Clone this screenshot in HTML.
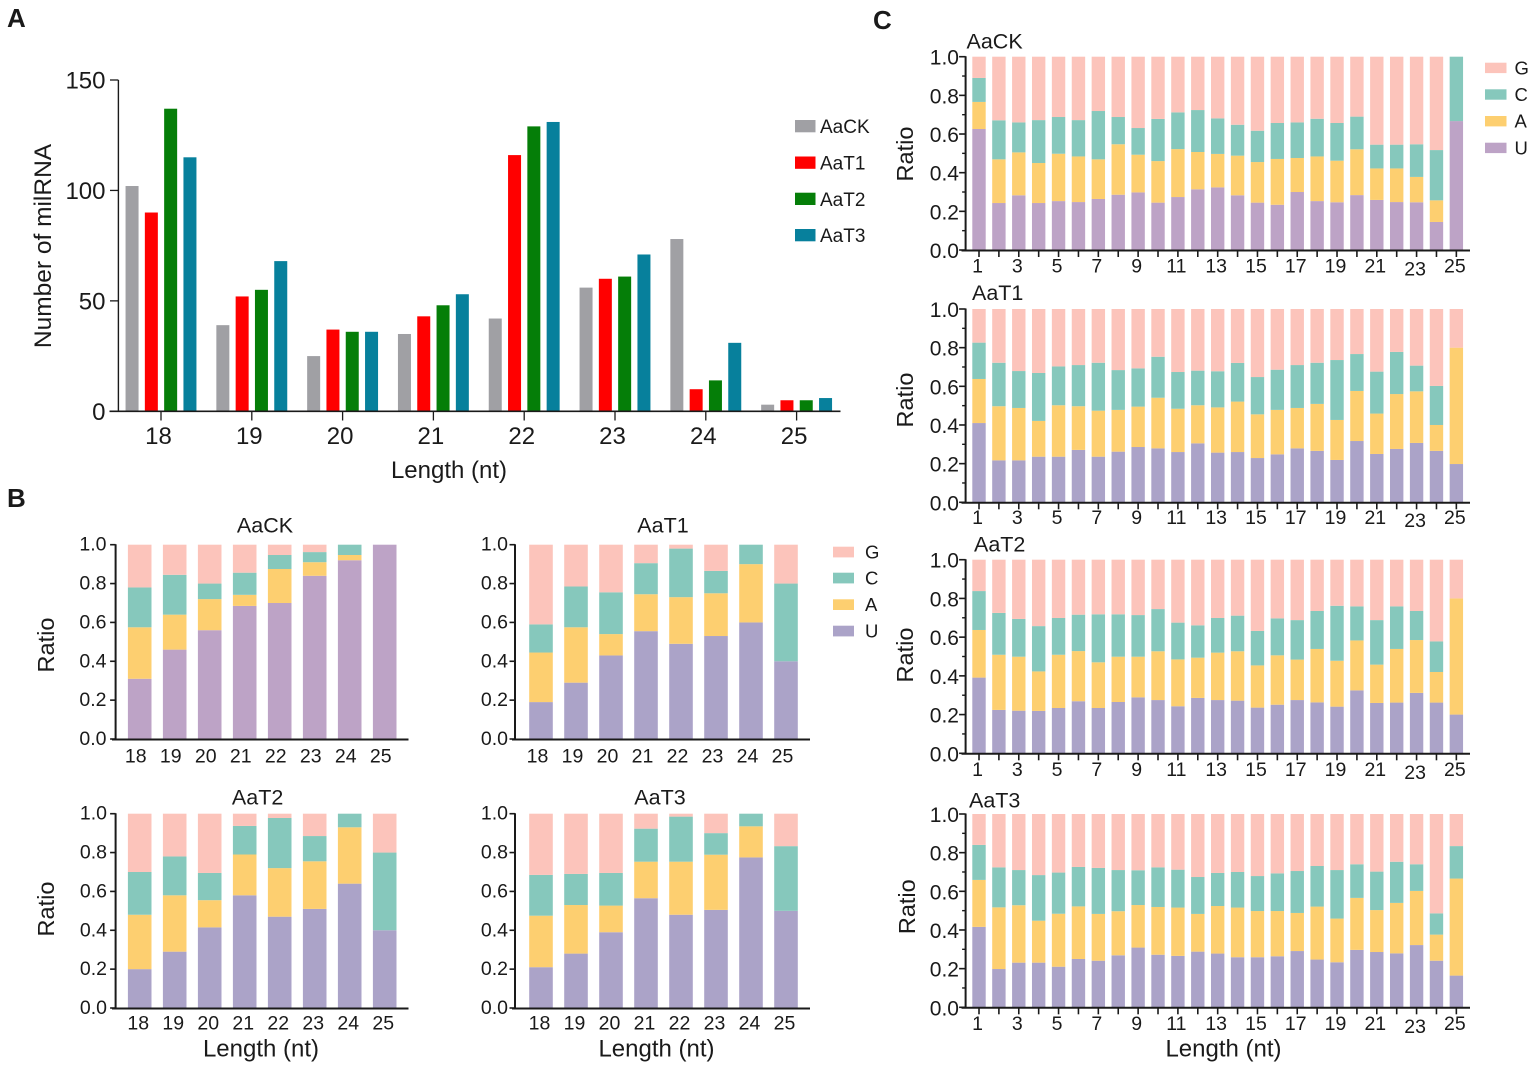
<!DOCTYPE html>
<html lang="en">
<head>
<meta charset="utf-8">
<title>miRNA length and nucleotide bias</title>
<style>
html,body{margin:0;padding:0;background:#fff;}
svg{display:block;}
text{font-family:"Liberation Sans",Arial,sans-serif;fill:#1a1a1a;}
</style>
</head>
<body>
<svg id="figure" width="1535" height="1067" viewBox="0 0 1535 1067" xmlns="http://www.w3.org/2000/svg"></svg>
<script>
// ---------- Panel A data ----------
const lengthLabels = ['18','19','20','21','22','23','24','25'];
const countTicks = [0,50,100,150];
const countAaCK = [102,39,25,35,42,56,78,3];
const countAaT1 = [90,52,37,43,116,60,10,5];
const countAaT2 = [137,55,36,48,129,61,14,5];
const countAaT3 = [115,68,36,53,131,71,31,6];

// ---------- Shared ratio ticks ----------
const ratioTicks = [0,0.2,0.4,0.6,0.8,1.0];
const ratioTickLabels = ['0.0','0.2','0.4','0.6','0.8','1.0'];
const ratioMinorTicks = [0.1,0.3,0.5,0.7,0.9];

// ---------- Panel B data: first-base ratio by length ----------
const bAaCK_U = [.31,.46,.56,.685,.70,.84,.92,1];
const bAaCK_A = [.265,.18,.16,.057,.175,.07,.027,0];
const bAaCK_C = [.205,.205,.08,.114,.072,.052,.053,0];
const bAaCK_G = [.22,.155,.20,.144,.053,.038,0,0];

const bAaT1_U = [.19,.29,.43,.555,.49,.53,.60,.40];
const bAaT1_A = [.255,.285,.11,.19,.24,.22,.30,0];
const bAaT1_C = [.145,.21,.215,.16,.25,.115,.10,.40];
const bAaT1_G = [.41,.215,.245,.095,.02,.135,0,.20];

const bAaT2_U = [.20,.29,.415,.58,.47,.51,.64,.40];
const bAaT2_A = [.28,.29,.14,.21,.25,.245,.29,0];
const bAaT2_C = [.22,.20,.14,.147,.258,.13,.07,.40];
const bAaT2_G = [.30,.22,.305,.063,.022,.115,0,.20];

const bAaT3_U = [.21,.28,.39,.565,.48,.505,.775,.50];
const bAaT3_A = [.265,.25,.137,.188,.273,.284,.16,0];
const bAaT3_C = [.21,.16,.168,.17,.232,.111,.065,.333];
const bAaT3_G = [.315,.31,.305,.077,.015,.10,0,.167];

// ---------- Panel C data: ratio by base position ----------
const positionLabels = ['1','2','3','4','5','6','7','8','9','10','11','12','13','14','15','16','17','18','19','20','21','22','23','24','25'];

const cAaCK_U = [.626,.243,.283,.243,.253,.248,.264,.286,.298,.245,.274,.314,.324,.283,.245,.234,.30,.253,.247,.284,.259,.248,.247,.145,.667];
const cAaCK_A = [.14,.226,.222,.207,.245,.236,.205,.261,.195,.215,.248,.193,.173,.205,.21,.237,.176,.231,.215,.237,.163,.174,.131,.112,0];
const cAaCK_C = [.124,.202,.155,.222,.19,.188,.25,.141,.138,.218,.19,.217,.184,.16,.162,.186,.184,.195,.195,.169,.123,.123,.169,.26,.333];
const cAaCK_G = [.11,.329,.34,.328,.312,.328,.281,.312,.369,.322,.288,.276,.319,.352,.383,.343,.34,.321,.343,.31,.455,.455,.453,.483,0];

const cAaT1_U = [.41,.217,.217,.236,.236,.271,.236,.262,.286,.279,.26,.305,.257,.26,.229,.248,.279,.266,.219,.317,.25,.276,.307,.266,.198];
const cAaT1_A = [.228,.28,.271,.185,.266,.226,.238,.216,.209,.262,.224,.197,.234,.261,.226,.23,.209,.243,.207,.259,.209,.284,.267,.134,.602];
const cAaT1_C = [.188,.225,.191,.248,.201,.213,.248,.206,.198,.212,.19,.179,.187,.20,.193,.208,.222,.213,.31,.191,.217,.218,.133,.202,0];
const cAaT1_G = [.174,.278,.321,.331,.297,.29,.278,.316,.307,.247,.326,.319,.322,.279,.352,.314,.29,.278,.264,.233,.324,.222,.293,.398,.20];

const cAaT2_U = [.391,.224,.22,.219,.234,.269,.234,.265,.289,.275,.243,.286,.275,.272,.236,.251,.275,.263,.241,.325,.26,.262,.312,.262,.20];
const cAaT2_A = [.246,.285,.279,.204,.275,.259,.236,.234,.21,.252,.242,.208,.245,.255,.218,.255,.209,.276,.237,.258,.198,.277,.273,.158,.60];
const cAaT2_C = [.201,.216,.195,.234,.19,.188,.248,.219,.215,.218,.19,.167,.179,.184,.178,.191,.204,.196,.284,.176,.23,.22,.15,.158,0];
const cAaT2_G = [.162,.275,.306,.343,.301,.284,.282,.282,.286,.255,.325,.339,.301,.289,.368,.303,.312,.265,.238,.241,.312,.241,.265,.422,.20];

const cAaT3_U = [.416,.198,.231,.231,.21,.25,.241,.269,.309,.272,.266,.288,.278,.259,.259,.264,.291,.247,.233,.297,.286,.279,.322,.241,.164];
const cAaT3_A = [.243,.319,.297,.217,.274,.272,.242,.228,.22,.247,.25,.195,.246,.257,.239,.234,.197,.274,.226,.269,.217,.261,.28,.135,.502];
const cAaT3_C = [.181,.207,.182,.236,.213,.204,.238,.213,.18,.205,.196,.191,.171,.184,.181,.195,.217,.21,.251,.174,.199,.213,.138,.11,.168];
const cAaT3_G = [.16,.276,.29,.316,.303,.274,.279,.29,.291,.276,.288,.326,.305,.30,.321,.307,.295,.269,.29,.26,.298,.247,.26,.514,.166];

// ---------- Drawing helpers ----------
const SVG_NS = 'http://www.w3.org/2000/svg';
const svg = document.getElementById('figure');
const AXIS = '#1a1a1a';
const COL_G = '#fcc4bb', COL_C = '#86c8bc', COL_A = '#fdcf70';
const COL_U_CK = '#bda3c6', COL_U = '#aba3c8';

function make(tag, attrs, parent, content) {
  const node = document.createElementNS(SVG_NS, tag);
  for (const key in attrs) node.setAttribute(key, attrs[key]);
  if (content !== undefined) node.textContent = content;
  parent.appendChild(node);
  return node;
}

function addLine(parent, x1, y1, x2, y2, width, name) {
  const el = make('line', {x1, y1, x2, y2, stroke: AXIS, 'stroke-width': width}, parent);
  
  
  return el;
}

function addText(parent, x, y, str, size, anchor, name, extra) {
  const attrs = Object.assign({x, y, 'font-size': size, 'text-anchor': anchor, 'dominant-baseline': 'central'}, extra || {});
  const el = make('text', attrs, parent, str);
  
  
  return el;
}

function addVerticalText(parent, x, y, str, size, name) {
  return addText(parent, x, y, str, size, 'middle', name, {transform: `rotate(-90 ${x} ${y})`});
}

function addRect(parent, x, y, w, h, fill, name) {
  const el = make('rect', {x, y, width: w, height: h, fill}, parent);
  
  
  return el;
}

function addGroup(name) {
  const g = make('g', {}, svg);
  
  
  return g;
}

function addLegend(name, items, x, swW, swH, textX, size, textDy) {
  const g = addGroup(name);
  items.forEach(function (it) {
    addRect(g, x, it.y, swW, swH, it.color, `legend-swatch-${it.label}`);
    addText(g, textX, it.y + swH / 2 + textDy, it.label, size, 'start', `legend-label-${it.label}`);
  });
}

// ---------- Panel A ----------
function drawPanelA() {
  const g = addGroup('length-count-chart');
  const series = [
    {name: 'AaCK', color: '#a0a0a4', values: countAaCK},
    {name: 'AaT1', color: '#ff0000', values: countAaT1},
    {name: 'AaT2', color: '#057e08', values: countAaT2},
    {name: 'AaT3', color: '#07809c', values: countAaT3}
  ];
  const y0 = 411.3, yTop = 80, yMax = 150;
  const yScale = v => y0 - v / yMax * (y0 - yTop);
  const xScale = i => 161 + i * 90.8;
  const barW = 13, barStep = 19.3;

  series.forEach(function (s, si) {
    s.values.forEach(function (v, i) {
      const cx = xScale(i) + (si - 1.5) * barStep;
      addRect(g, cx - barW / 2, yScale(v), barW, y0 - yScale(v), s.color, `bar-${s.name}-${lengthLabels[i]}`);
    });
  });

  addLine(g, 118.4, yTop, 118.4, y0, 1.4, 'y-axis');
  addLine(g, 109.5, y0, 840.5, y0, 1.6, 'x-axis');
  countTicks.forEach(function (t) {
    addLine(g, 110, yScale(t), 118.4, yScale(t), 1.3, `y-tick-${t}`);
    addText(g, 105.5, yScale(t) + 1, String(t), 24, 'end', `y-tick-label-${t}`);
  });
  lengthLabels.forEach(function (l, i) {
    addLine(g, xScale(i), y0, xScale(i), 420.5, 1.3, `x-tick-${l}`);
    addText(g, xScale(i) - 2.5, 436.5, l, 24, 'middle', `x-tick-label-${l}`);
  });
  addText(g, 449, 470.5, 'Length (nt)', 24, 'middle', 'x-axis-title');
  addVerticalText(g, 43.5, 246, 'Number of milRNA', 24.5, 'y-axis-title');

  addLegend('length-count-legend', [
    {label: 'AaCK', color: series[0].color, y: 120},
    {label: 'AaT1', color: series[1].color, y: 156.5},
    {label: 'AaT2', color: series[2].color, y: 192.7},
    {label: 'AaT3', color: series[3].color, y: 229}
  ], 795, 20.5, 12.3, 820, 19, 1.5);
}

// ---------- Stacked ratio charts ----------
function drawStacked(cfg) {
  const g = addGroup(cfg.name);
  const yScale = v => cfg.y0 - v * (cfg.y0 - cfg.y1);
  const xScale = i => cfg.x0 + i * cfg.step;
  const stack = [
    {key: 'U', color: cfg.colorU, values: cfg.u},
    {key: 'A', color: COL_A, values: cfg.a},
    {key: 'C', color: COL_C, values: cfg.c},
    {key: 'G', color: COL_G, values: cfg.gg}
  ];
  cfg.labels.forEach(function (label, i) {
    let cum = 0;
    stack.forEach(function (s) {
      const v = s.values[i];
      if (v > 0) {
        const top = yScale(cum + v);
        addRect(g, xScale(i) - cfg.barW / 2, top, cfg.barW, yScale(cum) - top, s.color, `bar-${s.key}-${label}`);
      }
      cum += v;
    });
  });

  addLine(g, cfg.axisX, cfg.y1 - 0.5, cfg.axisX, cfg.y0, 2, 'y-axis');
  addLine(g, cfg.axisLeft, cfg.y0 + 0.5, cfg.axisRight, cfg.y0 + 0.5, 2, 'x-axis');

  ratioTicks.forEach(function (t, i) {
    addLine(g, cfg.axisX - cfg.tickLen, yScale(t), cfg.axisX, yScale(t), 1.6, `y-tick-${ratioTickLabels[i]}`);
    addText(g, cfg.yLabelX, yScale(t) + cfg.yLabelDy, ratioTickLabels[i], cfg.tickFont, 'end', `y-tick-label-${ratioTickLabels[i]}`);
  });
  if (cfg.minor) {
    ratioMinorTicks.forEach(function (t) {
      addLine(g, cfg.axisX - 3.5, yScale(t), cfg.axisX, yScale(t), 1.4, `y-minor-tick-${t}`);
    });
  }

  cfg.labels.forEach(function (label, i) {
    if (cfg.xTicks) addLine(g, xScale(i), cfg.y0, xScale(i), cfg.y0 + 7, 1.6, `x-tick-${label}`);
    if (!cfg.oddOnly || i % 2 === 0) {
      const dy = (cfg.oddOnly && label === '23') ? 3 : 0;
      addText(g, xScale(i) + cfg.labelDx, cfg.labelY + dy, label, cfg.xFont, 'middle', `x-tick-label-${label}`);
    }
  });

  addText(g, cfg.titleX, cfg.titleY, cfg.title, 21.5, cfg.titleAnchor, 'chart-title');
  if (cfg.ratioX) addVerticalText(g, cfg.ratioX, cfg.ratioY, 'Ratio', 23.5, 'y-axis-title');
  if (cfg.xTitleX) addText(g, cfg.xTitleX, cfg.xTitleY, 'Length (nt)', 24, 'middle', 'x-axis-title');
}

function panelB(opts) {
  drawStacked(Object.assign({
    labels: lengthLabels, barW: 23.6, step: 35, tickLen: 5.5, tickFont: 19.5, xFont: 19.5, yLabelDy: 0,
    minor: false, xTicks: false, oddOnly: false, titleAnchor: 'middle', colorU: COL_U
  }, opts));
}

function panelC(opts) {
  drawStacked(Object.assign({
    labels: positionLabels, barW: 13.4, step: 19.89, x0: 979, axisX: 965.6, axisLeft: 961.5, axisRight: 1470,
    tickLen: 6.5, tickFont: 21, xFont: 19.5, yLabelX: 959, yLabelDy: 1.5, minor: true, xTicks: true, oddOnly: true,
    titleAnchor: 'start', labelDx: -1.5, colorU: COL_U
  }, opts));
}

drawPanelA();

panelB({name: 'first-base-chart-aack', title: 'AaCK', u: bAaCK_U, a: bAaCK_A, c: bAaCK_C, gg: bAaCK_G, colorU: COL_U_CK,
  x0: 139.7, y0: 739, y1: 544.7, axisX: 115.6, axisLeft: 112, axisRight: 408.5, yLabelX: 106.5,
  labelDx: -4, labelY: 756.5, titleX: 265, titleY: 525.7, ratioX: 46, ratioY: 645});
panelB({name: 'first-base-chart-aat1', title: 'AaT1', u: bAaT1_U, a: bAaT1_A, c: bAaT1_C, gg: bAaT1_G,
  x0: 541, y0: 739, y1: 544.7, axisX: 515, axisLeft: 512, axisRight: 810, yLabelX: 508,
  labelDx: -3.5, labelY: 756.5, titleX: 663, titleY: 525.7});
panelB({name: 'first-base-chart-aat2', title: 'AaT2', u: bAaT2_U, a: bAaT2_A, c: bAaT2_C, gg: bAaT2_G,
  x0: 139.7, y0: 1008, y1: 813.7, axisX: 115.6, axisLeft: 112, axisRight: 408.5, yLabelX: 107,
  labelDx: -1.5, labelY: 1023.5, titleX: 257.6, titleY: 797.7, ratioX: 46, ratioY: 909,
  xTitleX: 261, xTitleY: 1049});
panelB({name: 'first-base-chart-aat3', title: 'AaT3', u: bAaT3_U, a: bAaT3_A, c: bAaT3_C, gg: bAaT3_G,
  x0: 541, y0: 1008, y1: 813.7, axisX: 515, axisLeft: 512, axisRight: 810, yLabelX: 508,
  labelDx: -1.5, labelY: 1023.5, titleX: 660, titleY: 797.7,
  xTitleX: 656.5, xTitleY: 1049});

panelC({name: 'position-chart-aack', title: 'AaCK', u: cAaCK_U, a: cAaCK_A, c: cAaCK_C, gg: cAaCK_G, colorU: COL_U_CK,
  y0: 250, y1: 56.7, labelY: 266.5, titleX: 966.5, titleY: 41.5, ratioX: 905, ratioY: 154});
panelC({name: 'position-chart-aat1', title: 'AaT1', u: cAaT1_U, a: cAaT1_A, c: cAaT1_C, gg: cAaT1_G,
  y0: 502.3, y1: 309, labelY: 518, titleX: 972, titleY: 293, ratioX: 905, ratioY: 400});
panelC({name: 'position-chart-aat2', title: 'AaT2', u: cAaT2_U, a: cAaT2_A, c: cAaT2_C, gg: cAaT2_G,
  y0: 753.3, y1: 559.7, labelY: 770, titleX: 974, titleY: 544.5, ratioX: 905, ratioY: 655});
panelC({name: 'position-chart-aat3', title: 'AaT3', u: cAaT3_U, a: cAaT3_A, c: cAaT3_C, gg: cAaT3_G,
  y0: 1007.3, y1: 814, labelY: 1024, titleX: 969, titleY: 800.5, ratioX: 907, ratioY: 906.7,
  xTitleX: 1223.5, xTitleY: 1049});

addLegend('first-base-legend', [
  {label: 'G', color: COL_G, y: 546.7},
  {label: 'C', color: COL_C, y: 572.7},
  {label: 'A', color: COL_A, y: 599.3},
  {label: 'U', color: COL_U, y: 625.7}
], 833, 21, 10.7, 865, 18.5, 0);

addLegend('position-legend', [
  {label: 'G', color: COL_G, y: 62.7},
  {label: 'C', color: COL_C, y: 89.3},
  {label: 'A', color: COL_A, y: 116},
  {label: 'U', color: COL_U_CK, y: 142.7}
], 1485, 21.5, 10.4, 1514.5, 18.5, 0);

const panelLetters = addGroup('panel-letters');
addText(panelLetters, 7, 18, 'A', 26, 'start', 'panel-letter-a', {'font-weight': 'bold'});
addText(panelLetters, 7, 498, 'B', 26, 'start', 'panel-letter-b', {'font-weight': 'bold'});
addText(panelLetters, 873, 20, 'C', 26, 'start', 'panel-letter-c', {'font-weight': 'bold'});
</script>
</body>
</html>
